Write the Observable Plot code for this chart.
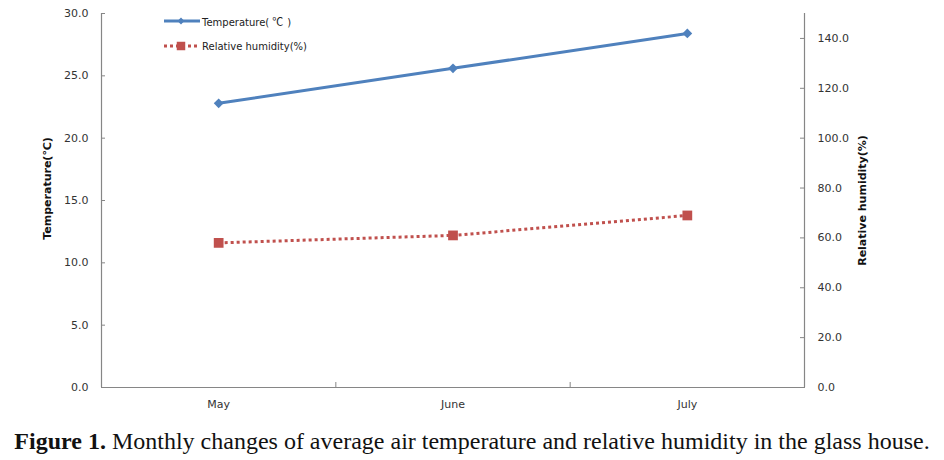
<!DOCTYPE html>
<html><head><meta charset="utf-8">
<script src="https://cdn.jsdelivr.net/npm/d3@7"></script>
<script src="https://cdn.jsdelivr.net/npm/@observablehq/plot@0.6"></script>
<style>
body{margin:0;background:#fff;}
#wrap{position:relative;width:944px;height:460px;overflow:hidden;background:#fff;}
#legend{position:absolute;left:164px;top:8px;font-family:"DejaVu Sans",sans-serif;font-size:10px;color:#222;}
.row{display:flex;align-items:center;height:25.5px;}
.row svg{display:block;margin-right:2px;}
.cjk{font-family:"Noto Sans CJK KR";font-size:11px;padding:0 4px 0 3px;}
#caption{position:absolute;left:0;top:427px;width:944px;text-align:center;font-family:"Liberation Serif","Times New Roman",serif;font-size:24px;line-height:28px;color:#111;white-space:nowrap;}
#caption b{font-weight:bold;}
</style></head><body>
<div id="wrap"><div id="chart"></div><div id="legend"></div><div id="caption"></div></div>
<script>
// ---- data ----
const months = ["May", "June", "July"];
const temperature = [22.8, 25.6, 28.4];
const humidity = [58.0, 61.0, 69.0];
const tempTicks = [0, 5, 10, 15, 20, 25, 30];
const humTicks = [0, 20, 40, 60, 80, 100, 120, 140];
const tempDomain = [0, 30];
const humDomain = [0, 150];
const seriesNames = ["Temperature(℃)", "Relative humidity(%)"];
const axisTitles = ["Temperature(℃)", "Relative humidity(%)"];
const captionBold = "Figure 1.";
const captionText = " Monthly changes of average air temperature and relative humidity in the glass house.";

// ---- style ----
const blue = "#4F81BD", red = "#C0504D", axisGray = "#868686";
const ratio = tempDomain[1] / humDomain[1]; // humidity -> temperature units

const rows = months.map((m, i) => ({month: m, pos: i + 0.5, temperature: temperature[i], hum: humidity[i] * ratio}));

const chart = Plot.plot({
  width: 944, height: 412,
  marginLeft: 101, marginRight: 140, marginTop: 13, marginBottom: 25,
  style: {fontFamily: "DejaVu Sans, sans-serif", fontSize: "11px", color: "#333", background: "#fff"},
  x: {type: "linear", domain: [0, months.length], axis: null},
  y: {domain: tempDomain, axis: null},
  marks: [
    Plot.ruleX([0, months.length], {stroke: axisGray, strokeWidth: 1.2}),
    Plot.ruleY([0], {stroke: axisGray, strokeWidth: 1.2}),
    Plot.axisY({anchor: "left", ticks: tempTicks, tickSize: 0, tickPadding: 13, tickFormat: d => d.toFixed(1), label: null}),
    Plot.axisY({anchor: "left", ticks: tempTicks, tickSize: 4, dx: 4, fill: "none", stroke: axisGray, label: null}),
    Plot.axisY({anchor: "right", ticks: humTicks.map(h => h * ratio), tickSize: 0, tickPadding: 13, tickFormat: d => (d / ratio).toFixed(1), label: null}),
    Plot.axisY({anchor: "right", ticks: humTicks.map(h => h * ratio), tickSize: 5, dx: -5, fill: "none", stroke: axisGray, label: null}),
    Plot.axisX({anchor: "bottom", ticks: d3.range(1, months.length), tickSize: 5, dy: -5, fill: "none", stroke: axisGray, label: null}),
    Plot.axisX({anchor: "bottom", ticks: rows.map(d => d.pos), tickFormat: d => months[Math.floor(d)], tickSize: 0, tickPadding: 13, label: null}),
    Plot.text([axisTitles[0]], {frameAnchor: "left", textAnchor: "middle", rotate: -90, dx: -54, dy: -12, fontWeight: "bold", fontSize: 11, fill: "#111"}),
    Plot.text([axisTitles[1]], {frameAnchor: "right", textAnchor: "middle", rotate: -90, dx: 58, dy: 0, fontWeight: "bold", fontSize: 11, fill: "#111"}),
    Plot.line(rows, {x: "pos", y: "temperature", stroke: blue, strokeWidth: 3}),
    Plot.dot(rows, {x: "pos", y: "temperature", symbol: "diamond2", r: 4.4, fill: blue, stroke: "none"}),
    Plot.line(rows, {x: "pos", y: "hum", stroke: red, strokeWidth: 3, strokeDasharray: "3,3", strokeLinecap: "butt"}),
    Plot.dot(rows, {x: "pos", y: "hum", symbol: "square", r: 5.5, fill: red, stroke: "none"})
  ]
});
document.getElementById("chart").append(chart);

// ---- legend (HTML overlay) ----
const legend = d3.select("#legend");
const styles = [
  {color: blue, dash: null, symbol: d3.symbolDiamond2, size: 30},
  {color: red, dash: "3,3", symbol: d3.symbolSquare, size: 72}
];
seriesNames.forEach((name, i) => {
  const st = styles[i];
  const row = legend.append("div").attr("class", "row");
  const svg = row.append("svg").attr("width", 36).attr("height", 14);
  svg.append("line").attr("x1", 0).attr("x2", 36).attr("y1", 7).attr("y2", 7)
    .attr("stroke", st.color).attr("stroke-width", 3).attr("stroke-dasharray", st.dash);
  svg.append("path").attr("d", d3.symbol(st.symbol, st.size)()).attr("transform", "translate(17,7)").attr("fill", st.color);
  const span = row.append("span");
  // wide glyph for the degree-Celsius sign, as in the original
  name.split(/(℃)/).forEach(part => {
    if (!part) return;
    span.append("span").attr("class", part === "℃" ? "cjk" : null).text(part);
  });
});

// ---- caption ----
const cap = d3.select("#caption");
cap.append("b").text(captionBold);
cap.append("span").text(captionText);
</script>
</body></html>
